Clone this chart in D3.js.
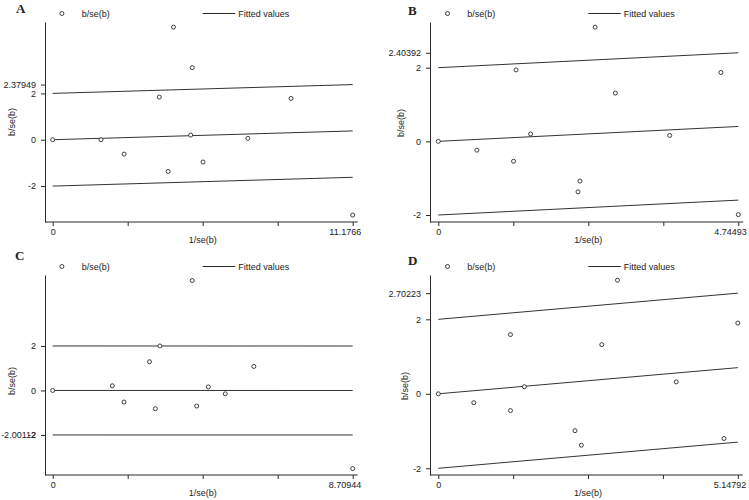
<!DOCTYPE html>
<html>
<head>
<meta charset="utf-8">
<script src="https://cdn.jsdelivr.net/npm/d3@7"></script>
<style>
  body { margin: 0; background: #fff; }
  svg text { font-family: Arial, "Liberation Sans", sans-serif; fill: #222; }
  .letter { font-family: "Times New Roman", "Liberation Serif", serif; font-weight: bold; font-size: 13px; }
</style>
</head>
<body>
<svg id="chart" width="749" height="500"></svg>
<script>
// Galbraith plots, one array per panel and series
const panelNames = ['A', 'B', 'C', 'D']

// 1/se(b)
const precisionA = [0, 1.80, 2.66, 3.97, 4.30, 4.50, 5.14, 5.20, 5.60, 7.27, 8.88, 11.1766]
const precisionB = [0, 0.61, 1.19, 1.23, 1.46, 2.21, 2.24, 2.48, 2.80, 3.66, 4.47, 4.74493]
const precisionC = [0, 1.73, 2.07, 2.81, 2.98, 3.11, 4.05, 4.18, 4.52, 5.01, 5.84, 8.70944]
const precisionD = [0, 0.61, 1.24, 1.24, 1.48, 2.35, 2.46, 2.81, 3.08, 4.09, 4.91, 5.14792]

// b/se(b)
const zA = [0, 0.00, -0.62, 1.84, -1.37, 4.86, 0.20, 3.11, -0.96, 0.06, 1.78, -3.25]
const zB = [0, -0.24, -0.54, 1.94, 0.20, -1.37, -1.08, 3.10, 1.31, 0.16, 1.87, -1.99]
const zC = [0, 0.21, -0.52, 1.29, -0.82, 2.00, 4.94, -0.70, 0.16, -0.15, 1.08, -3.51]
const zD = [0, -0.24, 1.59, -0.45, 0.19, -0.99, -1.38, 1.32, 3.05, 0.32, -1.20, 1.90]

// max of 1/se(b), also the last x tick label
const maxPrecision = [11.1766, 4.74493, 8.70944, 5.14792]
// rise of the fitted lines over the whole x range
const fittedRise = [0.37949, 0.40392, -0.00112, 0.70223]
// y tick labels
const yTicksA = [-2, 0, 2, 2.37949]
const yTicksB = [-2, 0, 2, 2.40392]
const yTicksC = [-2, 0, 2, -2.00112]
const yTicksD = [-2, 0, 2, 2.70223]
// offsets of the three fitted lines (estimate, +2, -2)
const bandOffsets = [-2, 0, 2]
// y axis extent
const yExtent = [[-3.55, 5.08], [-2.19, 3.24], [-3.80, 5.19], [-2.18, 3.19]]

const xs = [precisionA, precisionB, precisionC, precisionD]
const zs = [zA, zB, zC, zD]
const yTicks = [yTicksA, yTicksB, yTicksC, yTicksD]

// layout of each panel in page pixels
const layout = [
  { axisX: 45,  x0: 52.7,  x1: 352.7, top: 22,  bottom: 222, letter: [16, 13],  yLab: [12, 122] },
  { axisX: 430, x0: 438.3, x1: 738.3, top: 22,  bottom: 222, letter: [408, 15], yLab: [401, 123] },
  { axisX: 45,  x0: 52.7,  x1: 352.7, top: 275, bottom: 475, letter: [15, 260], yLab: [12, 381] },
  { axisX: 430, x0: 438.3, x1: 737.8, top: 275, bottom: 475, letter: [408, 265], yLab: [405, 386] },
]

const svg = d3.select('#chart')
const ink = '#2a2a2a'
const font = 'Arial, "Liberation Sans", sans-serif'
const fs = 9

panelNames.forEach((name, p) => {
  const L = layout[p]
  const max = maxPrecision[p]
  const x = d3.scaleLinear().domain([0, max]).range([L.x0, L.x1])
  const y = d3.scaleLinear().domain(yExtent[p]).range([L.bottom, L.top])
  const g = svg.append('g')

  // letter
  g.append('text').attr('class', 'letter')
    .attr('x', L.letter[0]).attr('y', L.letter[1])
    .text(name)

  // legend
  const ly = L.top - 8.5
  g.append('circle')
    .attr('cx', L.x0 + 9.2).attr('cy', ly).attr('r', 2)
    .attr('fill', 'none').attr('stroke', ink).attr('stroke-width', 0.9)
  g.append('text')
    .attr('x', L.x0 + 29).attr('y', ly + 3.2)
    .attr('font-size', fs).text('b/se(b)')
  g.append('line')
    .attr('x1', L.x0 + 150).attr('x2', L.x0 + 182.5)
    .attr('y1', ly).attr('y2', ly)
    .attr('stroke', ink).attr('stroke-width', 1)
  g.append('text')
    .attr('x', L.x0 + 185.5).attr('y', ly + 3.2)
    .attr('font-size', fs).text('Fitted values')

  // y axis
  g.append('g')
    .attr('transform', `translate(${L.axisX},0)`)
    .call(d3.axisLeft(y)
      .tickValues(yTicks[p])
      .tickFormat(d => String(d))
      .tickSize(4).tickSizeOuter(0).tickPadding(5))
    .call(a => a.select('.domain').attr('stroke', ink))
    .call(a => a.selectAll('.tick line').attr('stroke', ink))
    .call(a => a.selectAll('.tick text').attr('font-size', fs).attr('fill', '#222')
      .attr('font-family', font))

  // x axis
  g.append('g')
    .attr('transform', `translate(0,${L.bottom})`)
    .call(d3.axisBottom(x)
      .tickValues([0, max / 4, max / 2, 3 * max / 4, max])
      .tickFormat((d, i) => (i === 0 || i === 4) ? String(d) : '')
      .tickSize(4).tickSizeOuter(0).tickPadding(3))
    .call(a => a.select('.domain').remove())
    .call(a => a.selectAll('.tick line').attr('stroke', ink))
    .call(a => a.selectAll('.tick text').attr('font-size', fs).attr('fill', '#222')
      .attr('font-family', font))
    .call(a => a.selectAll('.tick:last-of-type text')
      .attr('text-anchor', 'end').attr('x', 8))
  g.append('line')
    .attr('x1', L.axisX).attr('x2', x(max) + 5)
    .attr('y1', L.bottom).attr('y2', L.bottom)
    .attr('stroke', ink).attr('stroke-width', 1)

  // axis titles
  g.append('text')
    .attr('x', (L.x0 + L.x1) / 2).attr('y', L.bottom + 20.5)
    .attr('text-anchor', 'middle').attr('font-size', fs)
    .text('1/se(b)')
  g.append('text')
    .attr('transform', `translate(${L.yLab[0] + 3.2},${L.yLab[1]}) rotate(-90)`)
    .attr('text-anchor', 'middle').attr('font-size', fs)
    .text('b/se(b)')

  // fitted lines
  const slope = fittedRise[p] / max
  g.append('g').selectAll('line')
    .data(bandOffsets)
    .join('line')
      .attr('x1', x(0)).attr('x2', x(max))
      .attr('y1', d => y(d)).attr('y2', d => y(d + slope * max))
      .attr('stroke', '#333').attr('stroke-width', 1)

  // points
  g.append('g').selectAll('circle')
    .data(xs[p].map((v, i) => [v, zs[p][i]]))
    .join('circle')
      .attr('cx', d => x(d[0])).attr('cy', d => y(d[1]))
      .attr('r', 2)
      .attr('fill', '#fff').attr('stroke', ink).attr('stroke-width', 0.9)
})
</script>
</body>
</html>
